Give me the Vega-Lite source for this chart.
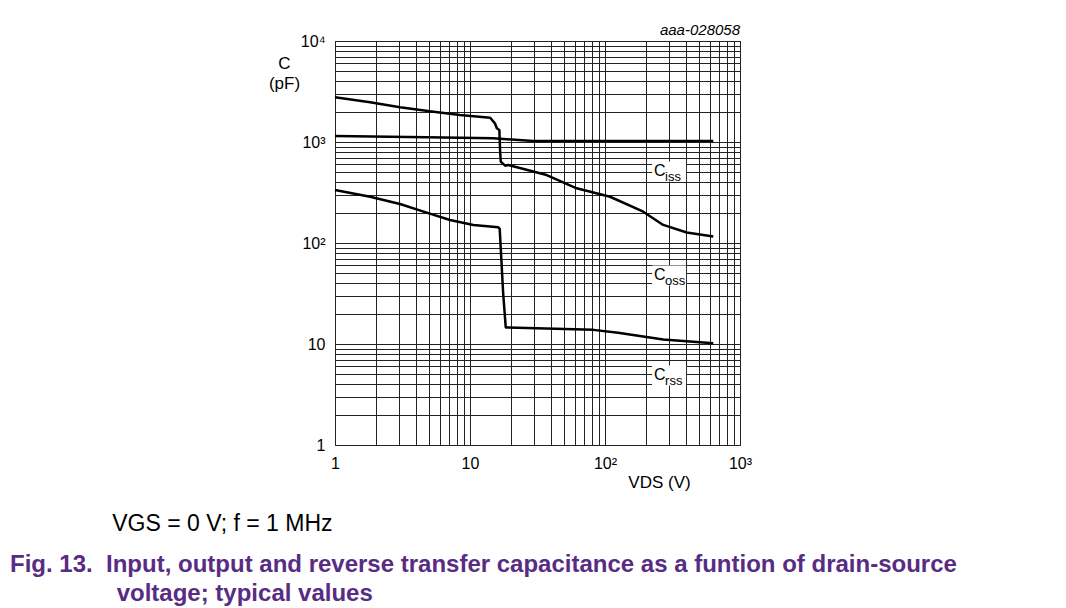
{
  "$schema": "https://vega.github.io/schema/vega-lite/v6.json",
  "width": 405,
  "height": 404,
  "autosize": {"type": "none"},
  "padding": {"left": 335, "top": 41, "right": 326, "bottom": 163},
  "background": "white",
  "config": {
    "font": "Liberation Sans",
    "view": {"stroke": "#444", "strokeWidth": 1}
  },
  "title": {
    "text": "\u200b\u00a0\u00a0\u00a0\u00a0\u00a0\u00a0\u00a0\u00a0\u00a0\u00a0\u00a0\u00a0\u00a0\u00a0\u00a0\u00a0VGS = 0 V; f = 1 MHz",
    "subtitle": [
      "Fig. 13.\u00a0\u00a0Input, output and reverse transfer capacitance as a funtion of drain-source",
      "\u200b\u00a0\u00a0\u00a0\u00a0\u00a0\u00a0\u00a0\u00a0\u00a0\u00a0\u00a0\u00a0\u00a0\u00a0\u00a0\u00a0voltage; typical values"
    ],
    "orient": "bottom",
    "anchor": "start",
    "frame": "group",
    "dx": -325,
    "offset": 23,
    "font": "Liberation Sans",
    "fontSize": 23,
    "fontWeight": "normal",
    "color": "black",
    "subtitleFont": "Liberation Sans",
    "subtitleFontSize": 24,
    "subtitleFontWeight": "bold",
    "subtitleColor": "#582c83",
    "subtitlePadding": 17,
    "subtitleLineHeight": 29
  },
  "datasets": {
    "curves": [
      {"series": "Ciss", "i": 1, "v": 1, "c": 2773},
      {"series": "Ciss", "i": 2, "v": 1.82, "c": 2480},
      {"series": "Ciss", "i": 3, "v": 3.03, "c": 2208},
      {"series": "Ciss", "i": 4, "v": 5.2, "c": 2000},
      {"series": "Ciss", "i": 5, "v": 8.43, "c": 1849},
      {"series": "Ciss", "i": 6, "v": 14.1, "c": 1740},
      {"series": "Ciss", "i": 7, "v": 15.3, "c": 1531},
      {"series": "Ciss", "i": 8, "v": 15.8, "c": 1367},
      {"series": "Ciss", "i": 9, "v": 16.5, "c": 1314},
      {"series": "Ciss", "i": 10, "v": 16.7, "c": 834},
      {"series": "Ciss", "i": 11, "v": 16.9, "c": 640},
      {"series": "Ciss", "i": 12, "v": 18.2, "c": 583},
      {"series": "Ciss", "i": 13, "v": 19.2, "c": 592},
      {"series": "Ciss", "i": 14, "v": 37, "c": 471},
      {"series": "Ciss", "i": 15, "v": 61.7, "c": 348},
      {"series": "Ciss", "i": 16, "v": 109, "c": 287},
      {"series": "Ciss", "i": 17, "v": 192, "c": 204},
      {"series": "Ciss", "i": 18, "v": 270, "c": 151},
      {"series": "Ciss", "i": 19, "v": 403, "c": 127},
      {"series": "Ciss", "i": 20, "v": 634, "c": 116},
      {"series": "Coss", "i": 1, "v": 1, "c": 1146},
      {"series": "Coss", "i": 2, "v": 4.78, "c": 1113},
      {"series": "Coss", "i": 3, "v": 14.9, "c": 1089},
      {"series": "Coss", "i": 4, "v": 29.4, "c": 1023},
      {"series": "Coss", "i": 5, "v": 634, "c": 1023},
      {"series": "Crss", "i": 1, "v": 1, "c": 335},
      {"series": "Crss", "i": 2, "v": 1.82, "c": 287},
      {"series": "Crss", "i": 3, "v": 3.03, "c": 243},
      {"series": "Crss", "i": 4, "v": 4.78, "c": 200},
      {"series": "Crss", "i": 5, "v": 7.11, "c": 169},
      {"series": "Crss", "i": 6, "v": 10.6, "c": 151},
      {"series": "Crss", "i": 7, "v": 16.2, "c": 143},
      {"series": "Crss", "i": 8, "v": 16.6, "c": 138},
      {"series": "Crss", "i": 9, "v": 17.6, "c": 32},
      {"series": "Crss", "i": 10, "v": 18.4, "c": 14.6},
      {"series": "Crss", "i": 11, "v": 81.9, "c": 13.8},
      {"series": "Crss", "i": 12, "v": 125, "c": 12.9},
      {"series": "Crss", "i": 13, "v": 270, "c": 11.1},
      {"series": "Crss", "i": 14, "v": 634, "c": 10.2}
    ],
    "labels": [
      {"main": "C", "sub": "iss", "v": 231, "c": 516},
      {"main": "C", "sub": "oss", "v": 231, "c": 48.2},
      {"main": "C", "sub": "rss", "v": 231, "c": 4.93}
    ],
    "code": [
      {"text": "aaa-028058", "v": 1000, "c": 10000}
    ]
  },
  "encoding": {
    "x": {
      "field": "v",
      "type": "quantitative",
      "scale": {"type": "log", "domain": [1, 1000], "nice": false},
      "axis": {
        "values": [1,2,3,4,5,6,7,8,9,10,20,30,40,50,60,70,80,90,100,200,300,400,500,600,700,800,900,1000],
        "labelExpr": "datum.value == 1 ? '1' : datum.value == 10 ? '10' : datum.value == 100 ? '10²' : datum.value == 1000 ? '10³' : ''",
        "labelOverlap": false,
        "labelFlush": false,
        "labelFontSize": 16,
        "labelColor": "black",
        "labelPadding": 10,
        "ticks": false,
        "domain": false,
        "grid": true,
        "gridColor": "#222",
        "gridWidth": 1,
        "gridOpacity": 1,
        "title": "VDS (V)",
        "titleFontSize": 17,
        "titleFontWeight": "normal",
        "titleColor": "black",
        "titleX": 324,
        "titleY": 42,
        "titleAlign": "center",
        "titleBaseline": "alphabetic"
      }
    },
    "y": {
      "field": "c",
      "type": "quantitative",
      "scale": {"type": "log", "domain": [1, 10000], "nice": false},
      "axis": {
        "values": [1,2,3,4,5,6,7,8,9,10,20,30,40,50,60,70,80,90,100,200,300,400,500,600,700,800,900,1000,2000,3000,4000,5000,6000,7000,8000,9000,10000],
        "labelExpr": "datum.value == 1 ? '1' : datum.value == 10 ? '10' : datum.value == 100 ? '10²' : datum.value == 1000 ? '10³' : datum.value == 10000 ? '10⁴' : ''",
        "labelOverlap": false,
        "labelFlush": false,
        "labelFontSize": 16,
        "labelColor": "black",
        "labelPadding": 10,
        "ticks": false,
        "domain": false,
        "grid": true,
        "gridColor": "#222",
        "gridWidth": 1,
        "gridOpacity": 1,
        "title": ["C", "(pF)"],
        "titleAngle": 0,
        "titleFontSize": 17,
        "titleFontWeight": "normal",
        "titleColor": "black",
        "titleX": -51,
        "titleY": 27,
        "titleAlign": "center",
        "titleBaseline": "alphabetic",
        "titleLineHeight": 20
      }
    }
  },
  "layer": [
    {
      "data": {"name": "curves"},
      "mark": {"type": "line", "color": "black", "strokeWidth": 2.5, "strokeJoin": "round"},
      "encoding": {
        "detail": {"field": "series"},
        "order": {"field": "i", "type": "quantitative"}
      }
    },
    {
      "data": {"name": "labels"},
      "mark": {"type": "point", "shape": "M-0.2,-0.95H3.2V1.05H-0.2Z", "size": 400, "filled": true, "fill": "white", "stroke": null, "opacity": 1}
    },
    {
      "data": {"name": "labels"},
      "mark": {"type": "text", "align": "left", "baseline": "middle", "fontSize": 16, "color": "black"},
      "encoding": {"text": {"field": "main"}}
    },
    {
      "data": {"name": "labels"},
      "mark": {"type": "text", "align": "left", "baseline": "middle", "fontSize": 13, "dx": 11, "dy": 6, "color": "black"},
      "encoding": {"text": {"field": "sub"}}
    },
    {
      "data": {"name": "code"},
      "mark": {"type": "text", "align": "right", "baseline": "middle", "fontSize": 15, "fontStyle": "italic", "dy": -11, "color": "black"},
      "encoding": {"text": {"field": "text"}}
    }
  ]
}
